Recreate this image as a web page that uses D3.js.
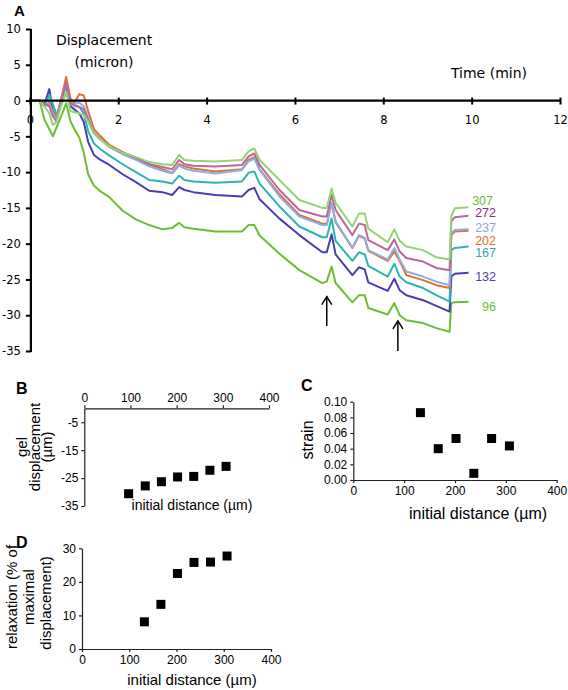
<!DOCTYPE html>
<html>
<head>
<meta charset="utf-8">
<script src="https://cdn.jsdelivr.net/npm/d3@7"></script>
<style>
  html, body { margin: 0; padding: 0; background: #fff; }
  svg { display: block; }
</style>
</head>
<body>
<svg id="chart" width="568" height="690"></svg>
<script>
// ---------------- DATA ----------------
// Panel A: displacement (micron) vs time (min) for 7 initial distances
const time = [0, 0.22, 0.33, 0.44, 0.52, 0.6, 0.72, 0.82, 0.92, 1.0, 1.12, 1.22, 1.32, 1.45, 1.6, 1.8, 2.1, 2.4, 2.7, 3.0, 3.22, 3.38, 3.5, 3.7, 4.2, 4.8, 4.95, 5.08, 5.2, 5.65, 6.1, 6.62, 6.72, 6.83, 6.92, 7.3, 7.45, 7.58, 7.66, 8.1, 8.25, 8.37, 8.52, 8.9, 9.2, 9.5, 9.54, 9.62, 9.93];
const seriesNames = ["96", "132", "167", "202", "237", "272", "307"];
const d96  = [0,0,-2.7,-4.0,-5.0,-3.8,-2.0,-0.4,-2.9,-3.9,-5.2,-7.3,-10.3,-11.9,-12.7,-13.5,-15.4,-16.6,-17.4,-18.0,-17.8,-17.1,-17.7,-17.9,-18.3,-18.3,-17.4,-17.4,-18.85,-21.4,-23.7,-25.5,-25.3,-23.2,-25.5,-28.2,-27.2,-27.2,-29.0,-29.9,-28.3,-30.0,-30.7,-31.1,-31.8,-32.3,-28.3,-28.2,-28.1];
const d132 = [0,0,-0.5,1.6,-1.5,-2.5,0.5,2.0,-0.8,-1.2,-1.8,-3.0,-5.8,-7.6,-8.3,-9.0,-10.3,-11.4,-12.6,-12.8,-13.2,-12.1,-12.5,-12.8,-13.2,-13.4,-12.5,-12.2,-13.8,-16.5,-18.8,-21.2,-21.2,-18.7,-21.5,-24.4,-23.3,-23.6,-25.4,-26.6,-24.9,-26.5,-27.2,-27.9,-28.7,-29.5,-24.6,-24.2,-24.05];
const d167 = [0,0,-0.8,0.8,-0.5,-2.0,-0.2,1.0,-0.5,-0.6,-0.9,-1.8,-4.3,-6.0,-6.8,-7.7,-8.9,-10.0,-11.1,-11.3,-11.6,-10.5,-11.1,-11.3,-11.5,-11.3,-10.1,-9.9,-11.6,-14.8,-17.6,-19.1,-19.1,-16.5,-19.6,-22.4,-21.2,-21.5,-23.1,-24.6,-22.8,-24.6,-25.4,-26.2,-27.2,-28.1,-20.9,-20.6,-20.4];
const d202 = [0,0,-0.8,-0.3,-1.5,-2.5,0.5,3.3,0.3,-0.4,0.9,0.7,-1.5,-4.0,-5.0,-6.2,-7.2,-8.0,-8.9,-9.6,-10.1,-8.9,-9.2,-9.5,-9.9,-9.6,-8.3,-7.9,-9.6,-13.1,-16.0,-17.2,-17.2,-14.4,-17.0,-20.6,-18.9,-19.3,-21.0,-22.4,-21.1,-22.4,-24.4,-25.1,-25.8,-26.2,-18.8,-18.3,-18.2];
const d237 = [0,0,-0.6,-0.5,-1.8,-2.6,0.2,2.4,-0.4,-0.5,-0.3,-0.8,-2.4,-4.5,-5.4,-6.5,-7.5,-8.3,-9.2,-9.8,-10.2,-9.1,-9.5,-9.8,-10.2,-9.7,-8.5,-8.1,-9.7,-13.4,-16.2,-17.4,-17.4,-14.3,-16.9,-20.5,-18.8,-19.2,-20.9,-22.2,-20.6,-22.2,-23.9,-24.6,-25.3,-25.8,-18.5,-18.1,-18.0];
const d272 = [0,0,-0.5,-0.8,-2.2,-2.9,0.0,2.6,-0.3,-0.7,-0.9,-1.2,-2.8,-4.5,-5.4,-6.4,-7.3,-8.0,-8.9,-9.3,-9.6,-8.3,-8.9,-9.1,-9.2,-9.0,-7.8,-7.4,-9.0,-12.5,-15.3,-16.2,-16.2,-13.2,-15.3,-18.8,-17.2,-17.4,-19.5,-20.9,-19.4,-21.1,-22.0,-22.5,-23.4,-23.7,-16.9,-16.3,-16.1];
const d307 = [0,0,-0.8,-1.8,-3.4,-3.0,-0.5,1.2,-1.5,-1.6,-1.8,-2.0,-3.0,-4.6,-5.5,-6.4,-7.3,-7.9,-8.6,-8.9,-9.0,-7.6,-8.3,-8.4,-8.5,-8.3,-7.1,-6.7,-8.3,-11.1,-13.9,-15.0,-15.0,-12.3,-14.3,-17.6,-15.8,-15.8,-17.9,-19.8,-18.0,-19.6,-20.4,-20.9,-21.9,-22.2,-16.2,-15.05,-14.9];
const seriesValues = [d96, d132, d167, d202, d237, d272, d307];
const xTicksA = [0, 2, 4, 6, 8, 10, 12];
const yTicksA = [10, 5, 0, -5, -10, -15, -20, -25, -30, -35];
// arrows (time, tail value, tip value)
const arrowTimes = [6.72, 8.33];
const arrowTails = [-31.5, -35];
const arrowTips  = [-27.4, -30.8];

// Panels B, C, D
const distB = [96, 132, 167, 202, 237, 272, 307];
const gelDisp = [-30.6, -27.8, -26.3, -24.6, -24.4, -22.2, -20.8];
const distC = [132, 167, 202, 237, 272, 307];
const strain = [0.086, 0.040, 0.053, 0.0085, 0.053, 0.0435];
const relaxation = [8.1, 13.3, 22.5, 25.8, 25.9, 27.7];
const xTicksBCD = [0, 100, 200, 300, 400];
const yTicksB = [-5, -15, -25, -35];
const yTicksC = [0, 0.02, 0.04, 0.06, 0.08, 0.10];
const yTicksD = [0, 10, 20, 30];

// ---------------- STYLE ----------------
const colors = {
  "96":  "#6cbd38", "132": "#4b3cb2", "167": "#2fb3b1", "202": "#e0702e",
  "237": "#8eaee6", "272": "#b8679f", "307": "#93d472"
};
const labelColors = {
  "96":  "#6cbd38", "132": "#4b3cb2", "167": "#2aa9b0", "202": "#e0702e",
  "237": "#8aa6e2", "272": "#8e2b8e", "307": "#6cbd38"
};
const labelNudge = { "96": 5, "132": 4, "167": 6.5, "202": 9.7, "237": -2, "272": -3, "307": -7 };

const svg = d3.select("#chart");
const fontA = "'DejaVu Sans', Verdana, sans-serif";
const fontB = "'Liberation Sans', Arial, sans-serif";

// ---------------- PANEL A ----------------
const xA = d3.scaleLinear().domain([0, 12]).range([29.9, 560]);
const yA = d3.scaleLinear().domain([-35, 10]).range([351, 29]);
const gA = svg.append("g");

// lines
const line = d3.line().x((d, i) => xA(time[i])).y(d => yA(d));
seriesNames.forEach((name, k) => {
  gA.append("path")
    .attr("d", line(seriesValues[k]))
    .attr("fill", "none")
    .attr("stroke", colors[name])
    .attr("stroke-width", 2)
    .attr("stroke-linejoin", "round");
});

// y axis
const yAxisA = d3.axisLeft(yA).tickValues(yTicksA).tickSize(5).tickFormat(d => String(d));
const gyA = gA.append("g").attr("transform", `translate(${xA(0) + 1},0)`).call(yAxisA);
gyA.select(".domain").attr("stroke", "#000").attr("stroke-width", 2.2)
  .attr("d", `M0,${yA(10)}V${yA(-35) + 1}`);
gyA.selectAll(".tick line").attr("stroke", "#000").attr("stroke-width", 2);
gyA.selectAll(".tick text").attr("font-family", fontA).attr("font-size", 11.5)
  .attr("fill", "#000").attr("x", -10);

// x axis at y=0
const xAxisA = d3.axisBottom(xA).tickValues(xTicksA).tickSize(4).tickFormat(d => String(d));
const gxA = gA.append("g").attr("transform", `translate(0,${yA(0)})`).call(xAxisA);
gxA.select(".domain").attr("stroke", "#000").attr("stroke-width", 2.2)
  .attr("d", `M${xA(0)},0H${xA(12) + 1}`);
gxA.selectAll(".tick line").attr("stroke", "#000").attr("stroke-width", 2).attr("y1", -3);
gxA.selectAll(".tick text").attr("font-family", fontA).attr("font-size", 11.5)
  .attr("fill", "#000").attr("y", 15);

// series labels
seriesNames.forEach((name, k) => {
  const vals = seriesValues[k];
  gA.append("text")
    .attr("x", name === "307" ? 493 : 496)
    .attr("y", yA(vals[vals.length - 1]) + labelNudge[name])
    .attr("dy", "0.35em")
    .attr("text-anchor", "end")
    .attr("font-family", "'Liberation Sans Narrow', 'Liberation Sans', Arial, sans-serif")
    .attr("font-size", 12.5)
    .attr("fill", labelColors[name])
    .text(name);
});

// arrows
arrowTimes.forEach((t, i) => {
  const x = xA(t), y1 = yA(arrowTails[i]), y2 = yA(arrowTips[i]);
  gA.append("line").attr("x1", x).attr("x2", x).attr("y1", y1).attr("y2", y2)
    .attr("stroke", "#000").attr("stroke-width", 1.5);
  gA.append("path").attr("d", `M${x - 5},${y2 + 8}L${x},${y2}L${x + 5},${y2 + 8}`)
    .attr("fill", "none").attr("stroke", "#000").attr("stroke-width", 1.5);
});

// titles
gA.append("text").attr("x", 14).attr("y", 16).attr("font-family", fontB)
  .attr("font-weight", "bold").attr("font-size", 15).text("A");
gA.append("text").attr("x", 104).attr("y", 45).attr("text-anchor", "middle")
  .attr("font-family", fontA).attr("font-size", 14).text("Displacement");
gA.append("text").attr("x", 104).attr("y", 67).attr("text-anchor", "middle")
  .attr("font-family", fontA).attr("font-size", 14).text("(micron)");
gA.append("text").attr("x", 489).attr("y", 78).attr("text-anchor", "middle")
  .attr("font-family", fontA).attr("font-size", 14).text("Time (min)");

// helper for small panels
function styleAxis(g, fs) {
  g.select(".domain").attr("stroke", "#222").attr("stroke-width", 1.2);
  g.selectAll(".tick line").attr("stroke", "#222").attr("stroke-width", 1.2);
  g.selectAll(".tick text").attr("font-family", fontB).attr("font-size", fs).attr("fill", "#000");
}
function squares(g, xs, ys, xScale, yScale) {
  g.selectAll(null).data(xs).enter().append("rect")
    .attr("x", (d) => xScale(d) - 4.5)
    .attr("y", (d, i) => yScale(ys[i]) - 4.5)
    .attr("width", 9).attr("height", 9).attr("fill", "#000");
}

// ---------------- PANEL B ----------------
const xB = d3.scaleLinear().domain([0, 400]).range([84.3, 269]);
const yB = d3.scaleLinear().domain([-35, 0]).range([506, 408.3]);
const gB = svg.append("g");
const gxB = gB.append("g").attr("transform", `translate(0,${yB(0)})`)
  .call(d3.axisTop(xB).tickValues(xTicksBCD).tickSize(3).tickSizeOuter(0).tickFormat(d => String(d)));
styleAxis(gxB, 12);
gxB.selectAll(".tick text").attr("y", -6);
const gyB = gB.append("g").attr("transform", `translate(${xB(0)},0)`)
  .call(d3.axisLeft(yB).tickValues(yTicksB).tickSize(3).tickSizeOuter(0).tickFormat(d => String(d)));
styleAxis(gyB, 12);
squares(gB, distB, gelDisp, xB, yB);
gB.append("text").attr("x", 16).attr("y", 394).attr("font-family", fontB)
  .attr("font-weight", "bold").attr("font-size", 16).text("B");
gB.append("text").attr("x", 192).attr("y", 510).attr("text-anchor", "middle")
  .attr("font-family", fontB).attr("font-size", 14).text("initial distance (µm)");
[["gel", 27], ["displacement", 40], ["(µm)", 52]].forEach(([t, x]) => {
  gB.append("text").attr("transform", `translate(${x},447) rotate(-90)`)
    .attr("text-anchor", "middle").attr("font-family", fontB).attr("font-size", 15).text(t);
});

// ---------------- PANEL C ----------------
const xC = d3.scaleLinear().domain([0, 400]).range([353.3, 556.7]);
const yC = d3.scaleLinear().domain([0, 0.1]).range([480, 401.7]);
const gC = svg.append("g");
const gxC = gC.append("g").attr("transform", `translate(0,${yC(0)})`)
  .call(d3.axisBottom(xC).tickValues(xTicksBCD).tickSize(3).tickSizeOuter(0).tickFormat(d => String(d)));
styleAxis(gxC, 12);
const gyC = gC.append("g").attr("transform", `translate(${xC(0)},0)`)
  .call(d3.axisLeft(yC).tickValues(yTicksC).tickSize(3).tickSizeOuter(0).tickFormat(d3.format(".2f")));
styleAxis(gyC, 12);
squares(gC, distC, strain, xC, yC);
gC.append("text").attr("x", 301).attr("y", 391).attr("font-family", fontB)
  .attr("font-weight", "bold").attr("font-size", 16).text("C");
gC.append("text").attr("x", 478).attr("y", 519).attr("text-anchor", "middle")
  .attr("font-family", fontB).attr("font-size", 16).text("initial distance (µm)");
gC.append("text").attr("transform", `translate(313,440) rotate(-90)`)
  .attr("text-anchor", "middle").attr("font-family", fontB).attr("font-size", 16).text("strain");

// ---------------- PANEL D ----------------
const xD = d3.scaleLinear().domain([0, 400]).range([82, 271]);
const yD = d3.scaleLinear().domain([0, 30]).range([649, 548.3]);
const gD = svg.append("g");
const gxD = gD.append("g").attr("transform", `translate(0,${yD(0)})`)
  .call(d3.axisBottom(xD).tickValues(xTicksBCD).tickSize(3).tickSizeOuter(0).tickFormat(d => String(d)));
styleAxis(gxD, 12);
const gyD = gD.append("g").attr("transform", `translate(${xD(0)},0)`)
  .call(d3.axisLeft(yD).tickValues(yTicksD).tickSize(3).tickSizeOuter(0).tickFormat(d => String(d)));
styleAxis(gyD, 12);
squares(gD, distC, relaxation, xD, yD);
gD.append("text").attr("x", 16).attr("y", 548).attr("font-family", fontB)
  .attr("font-weight", "bold").attr("font-size", 16).text("D");
gD.append("text").attr("x", 192).attr("y", 685).attr("text-anchor", "middle")
  .attr("font-family", fontB).attr("font-size", 15).text("initial distance (µm)");
[["relaxation (% of", 17, 597], ["maximal", 34, 597], ["displacement)", 51, 603]].forEach(([t, x, y]) => {
  gD.append("text").attr("transform", `translate(${x},${y}) rotate(-90)`)
    .attr("text-anchor", "middle").attr("font-family", fontB).attr("font-size", 15).text(t);
});
</script>
</body>
</html>
